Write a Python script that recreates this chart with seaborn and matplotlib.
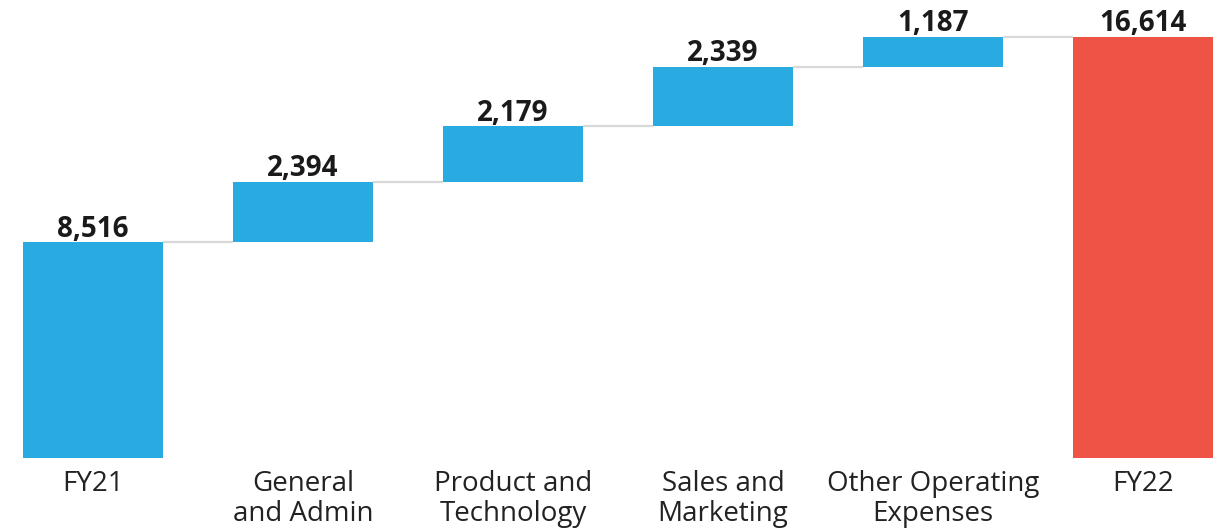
import matplotlib
matplotlib.use("Agg")
import matplotlib.pyplot as plt
import seaborn as sns

# Waterfall: FY21 operating expenses bridged to FY22
categories = ["FY21", "General\nand Admin", "Product and\nTechnology",
              "Sales and\nMarketing", "Other Operating\nExpenses", "FY22"]
values = [8516, 2394, 2179, 2339, 1187, 16614]
labels = ["8,516", "2,394", "2,179", "2,339", "1,187", "16,614"]
is_total = [True, False, False, False, False, True]

BLUE = "#29ABE2"
RED = "#EF5345"
colors = [BLUE, BLUE, BLUE, BLUE, BLUE, RED]

# Bottom of each bar: totals start at zero, steps float on the running sum
bottoms = []
running = 0
for v, tot in zip(values, is_total):
    if tot:
        bottoms.append(0)
        running = v
    else:
        bottoms.append(running)
        running += v
tops = [b + v for b, v in zip(bottoms, values)]

sns.set_theme(style="white")
plt.rcParams["font.family"] = ["Open Sans", "DejaVu Sans"]

fig = plt.figure(figsize=(12.2, 5.31), dpi=100)
ax = fig.add_axes([0, 73 / 531, 1, 458 / 531])

bar_w = 0.663
sns.barplot(x=categories, y=values, hue=categories, palette=colors,
            legend=False, width=bar_w, saturation=1, ax=ax)

for patch, b in zip(ax.patches, bottoms):
    patch.set_y(b)
    patch.set_edgecolor("none")

# Connector lines between consecutive bars
for i in range(len(values) - 1):
    ax.hlines(tops[i], i + bar_w / 2, i + 1 - bar_w / 2,
              color="#d9d9d9", lw=1.6, zorder=0)

# Value labels above each bar
for i, (t, lab) in enumerate(zip(tops, labels)):
    ax.annotate(lab, (i, t), xytext=(0, -1), textcoords="offset points",
                ha="center", va="bottom", fontsize=20, fontweight="bold",
                color="#1a1a1a")

ax.set_xlim(-93 / 210, 5 + 77 / 210)
ax.set_ylim(0, 16614 * 458 / 421)
ax.set_yticks([])
ax.set_xlabel("")
ax.set_ylabel("")
for s in ax.spines.values():
    s.set_visible(False)
ax.tick_params(axis="x", length=0, pad=8.5, labelsize=20, labelcolor="#222222")
for t in ax.get_xticklabels():
    t.set_linespacing(1.12)

fig.savefig("out.png", dpi=100)
